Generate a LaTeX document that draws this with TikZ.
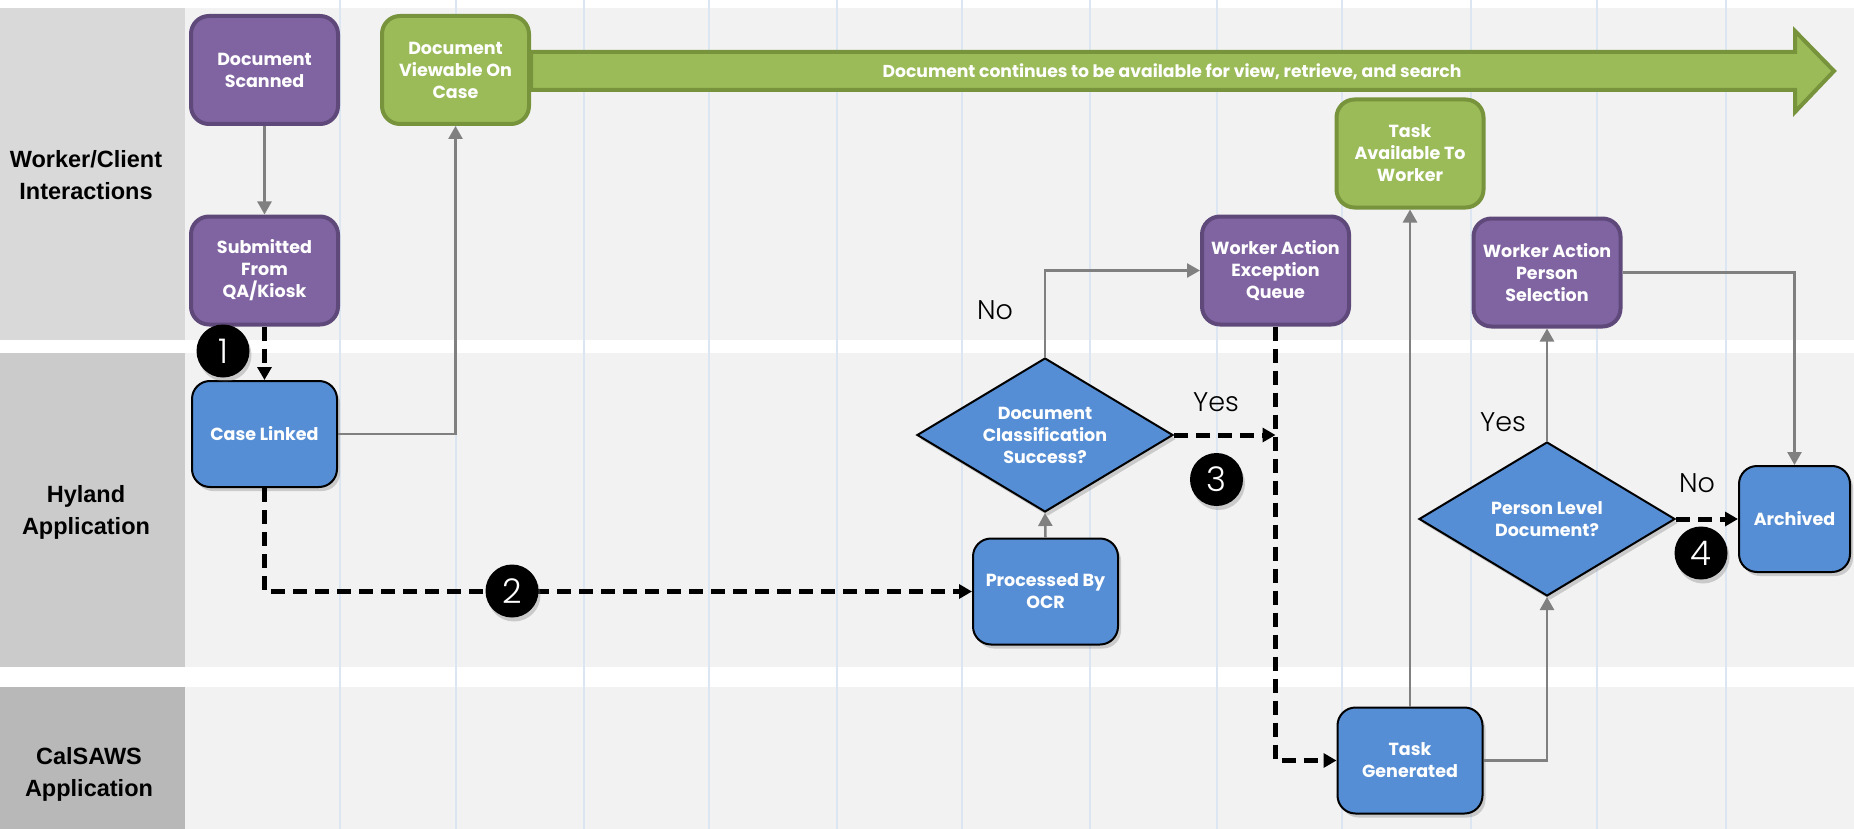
\documentclass[tikz,border=0pt]{standalone}
\usepackage{fontspec}
\setmainfont{Poppins}
\newfontfamily\lanefont{Liberation Sans}
\IfFontExistsTF{Poppins Light}{\newfontfamily\lightfont{Poppins Light}}{\newfontfamily\lightfont{Poppins}}
\usetikzlibrary{arrows.meta,shapes.geometric,shadows}
\definecolor{purplefill}{HTML}{8064A2}
\definecolor{purpleline}{HTML}{5F497A}
\definecolor{greenfill}{HTML}{9BBB59}
\definecolor{greenline}{HTML}{77933C}
\definecolor{bluefill}{HTML}{558ED5}
\definecolor{grayline}{HTML}{808080}
\definecolor{lanebg}{HTML}{F2F2F2}
\definecolor{labA}{HTML}{D9D9D9}
\definecolor{labB}{HTML}{CBCBCB}
\definecolor{labC}{HTML}{B8B8B8}
\definecolor{gridc}{HTML}{DCE6F2}
\newcommand\myNodeFont{\fontsize{17.5}{22}\selectfont\bfseries}
\tikzset{
  basebox/.style={rectangle, align=center, text=white, font=\myNodeFont, inner sep=0pt},
  purplebox/.style={basebox, rounded corners=18pt, fill=purplefill, draw=purpleline, line width=4pt, minimum width=147pt, minimum height=108pt},
  greenbox/.style={basebox, rounded corners=18pt, fill=greenfill, draw=greenline, line width=4pt, minimum width=147pt, minimum height=108pt},
  bluebox/.style={basebox, rounded corners=18pt, fill=bluefill, draw=black, line width=2pt, minimum width=145pt, minimum height=106pt,
     drop shadow={opacity=0.35, shadow xshift=3pt, shadow yshift=-4pt}},
  decision/.style={diamond, shape aspect=1.66, align=center, text=white, font=\myNodeFont, inner sep=0pt, fill=bluefill, draw=black, line width=2pt,
     minimum width=256pt, minimum height=154pt, drop shadow={opacity=0.35, shadow xshift=3pt, shadow yshift=-4pt}},
  lanelabel/.style={align=center, font=\lanefont\fontsize{23.5}{32}\selectfont\bfseries, text=black},
  answer/.style={font=\lightfont\fontsize{27}{30}\selectfont, text=black},
  numcirc/.style={circle, fill=black, minimum size=53pt, inner sep=0pt, text=white, font=\lightfont\fontsize{34}{34}\selectfont,
     drop shadow={opacity=0.35, shadow xshift=2pt, shadow yshift=-4pt}},
  grayarrow/.style={draw=grayline, line width=2.5pt, -{Triangle[length=13pt,width=14pt]}},
  dasharrow/.style={draw=black, line width=5pt, dash pattern=on 14pt off 8pt, line join=miter, -{Triangle[length=13pt,width=14pt]}},
}
\begin{document}
\begin{tikzpicture}[x=1pt,y=-1pt]
\useasboundingbox (0,0) rectangle (1854,829);
\fill[white] (0,0) rectangle (1854,829);
% lanes
\fill[lanebg] (185,8) rectangle (1854,340);
\fill[labA] (0,8) rectangle (185,340);
\fill[lanebg] (185,353) rectangle (1854,667);
\fill[labB] (0,353) rectangle (185,667);
\fill[lanebg] (185,687) rectangle (1854,829);
\fill[labC] (0,687) rectangle (185,829);
% grid
\foreach \gx in {340,456,584,709,837,962,1090,1217,1342,1471,1597,1726}
  \draw[gridc, line width=1.5pt] (\gx,0) -- (\gx,829);
% lane labels
\node[lanelabel] (laneA) at (86,175) {Worker/Client\\Interactions};
\node[lanelabel] (laneB) at (86,512) {Hyland\\Application};
\node[lanelabel] (laneC) at (89,774) {CalSAWS\\Application};
% banner arrow
\draw[greenline, fill=greenfill, line width=4pt, line join=miter]
  (531,52) -- (1795,52) -- (1795,31) -- (1834,71) -- (1795,112) -- (1795,90) -- (531,90) -- cycle;
\node[text=white, font=\fontsize{17.2}{19}\selectfont\bfseries] (banner) at (1172,72)
  {Document continues to be available for view, retrieve, and search};
% nodes
\node[purplebox] (scanned) at (264.5,70) {Document\\Scanned};
\node[greenbox] (viewable) at (455.5,70) {Document\\Viewable On\\Case};
\node[purplebox] (submitted) at (264.5,270.5) {Submitted\\From\\QA/Kiosk};
\node[bluebox] (linked) at (264.5,434) {Case Linked};
\node[bluebox] (ocr) at (1045.5,591.5) {Processed By\\OCR};
\node[decision] (dcs) at (1045,435) {Document\\Classification\\Success?};
\node[purplebox] (exq) at (1275.5,270.5) {Worker Action\\Exception\\Queue};
\node[greenbox] (taskav) at (1410,153.5) {Task\\Available To\\Worker};
\node[purplebox] (pers) at (1547,272.5) {Worker Action\\Person\\Selection};
\node[decision] (pld) at (1547,519) {Person Level\\Document?};
\node[bluebox, minimum width=111pt] (arch) at (1794.5,519) {Archived};
\node[bluebox] (taskgen) at (1410,760.5) {Task\\Generated};
% connectors
\draw[grayarrow] (scanned.south) -- (submitted.north);
\draw[dasharrow] (submitted.south) -- (linked.north);
\draw[grayarrow] (linked.east) -| (viewable.south);
\draw[dasharrow] (linked.south) |- (ocr.west);
\draw[grayarrow] (ocr.north) -- (dcs.south);
\draw[grayarrow] (dcs.north) |- (exq.west);
\coordinate (yesend) at (exq.south |- dcs.east);
\draw[dasharrow] (dcs.east) -- (yesend);
\draw[dasharrow] (exq.south) |- (taskgen.west);
\draw[grayarrow] (taskgen.north) -- (taskav.south);
\draw[grayarrow] (taskgen.east) -| (pld.south);
\draw[grayarrow] (pld.north) -- (pers.south);
\draw[grayarrow] (pers.east) -| (arch.north);
\draw[dasharrow] (pld.east) -- (arch.west);
% answers
\node[answer] (noA) at (995,310) {No};
\node[answer] (yesA) at (1216,402) {Yes};
\node[answer] (yesB) at (1503,422) {Yes};
\node[answer] (noB) at (1697,483) {No};
% number circles
\node[numcirc] (c1) at (223,351) {1};
\node[numcirc] (c2) at (512,591) {2};
\node[numcirc] (c3) at (1216.5,479.5) {3};
\node[numcirc] (c4) at (1701,553) {4};
\end{tikzpicture}
\end{document}
